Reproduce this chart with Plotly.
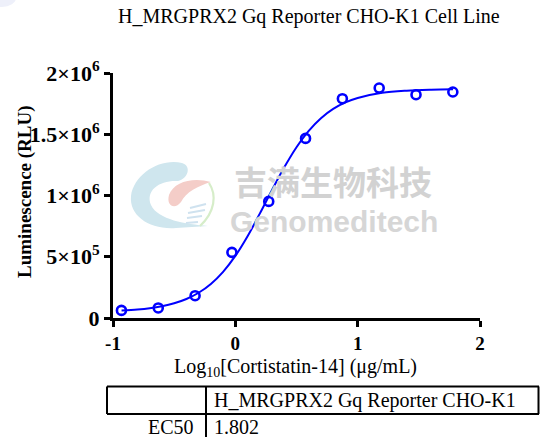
import urllib.parse
import plotly.graph_objects as go

# ---------------- data ----------------
log_conc = [-0.931, -0.630, -0.329, -0.028, 0.273, 0.574, 0.875, 1.176, 1.477, 1.778]
luminescence = [62000, 82000, 182000, 536000, 952000, 1466000, 1790000, 1877000, 1823000, 1845000]

# fitted curve
curve_x = [-0.93, -0.8, -0.7, -0.6, -0.5, -0.4, -0.3, -0.2, -0.1, 0.0, 0.1, 0.2, 0.3,
           0.4, 0.5, 0.6, 0.7, 0.8, 0.9, 1.0, 1.2, 1.4, 1.6, 1.78]
curve_y = [62000, 70000, 80000, 96000, 120000, 155000, 206000, 278000, 377000, 507000,
           668000, 852000, 1045000, 1230000, 1394000, 1528000, 1631000, 1707000, 1760000,
           1796000, 1838000, 1856000, 1864000, 1867000]

x_ticks = [-1, 0, 1, 2]
x_tick_labels = ["-1", "0", "1", "2"]
y_ticks = [0, 500000, 1000000, 1500000, 2000000]
y_tick_labels = ["0", "5×10<sup>5</sup>", "1×10<sup>6</sup>", "1.5×10<sup>6</sup>", "2×10<sup>6</sup>"]

title_text = "H_MRGPRX2 Gq Reporter CHO-K1 Cell Line"
x_title = "Log<sub>10</sub>[Cortistatin-14] (μg/mL)"
y_title = "Luminescence (RLU)"
table_header = "H_MRGPRX2 Gq Reporter CHO-K1"
table_row_label = "EC50"
table_row_value = "1.802"

# ---------------- layout geometry ----------------
W_IMG, H_IMG = 541, 437
L, R, T, B = 113, 61, 73, 119
PW = W_IMG - L - R
PH = H_IMG - T - B


def px(x):
    return (x - L) / PW


def py(y):
    return (H_IMG - B - y) / PH


SERIF = "Liberation Serif"
BLUE = "#0000ff"

fig = go.Figure()
fig.add_trace(go.Scatter(x=curve_x, y=curve_y, mode="lines", line=dict(color=BLUE, width=2, shape="spline"),
                         hoverinfo="skip", showlegend=False, cliponaxis=False))
fig.add_trace(go.Scatter(x=log_conc, y=luminescence, mode="markers",
                         marker=dict(symbol="circle-open", size=9, color=BLUE, line=dict(width=2.6, color=BLUE)),
                         showlegend=False, cliponaxis=False))

annotations = [
    dict(text=title_text, x=px(309), y=py(17), xref="paper", yref="paper", showarrow=False,
         font=dict(family=SERIF, size=20, color="black"), xanchor="center", yanchor="middle"),
    dict(text=y_title, x=px(25), y=py(192), xref="paper", yref="paper", showarrow=False, textangle=-90,
         font=dict(family=SERIF, size=19, color="black", weight="bold"), xanchor="center", yanchor="middle"),
    dict(text=x_title, x=px(295), y=py(367), xref="paper", yref="paper", showarrow=False,
         font=dict(family=SERIF, size=20, color="black"), xanchor="center", yanchor="middle"),
    # watermark
    dict(text="吉满生物科技", x=px(333), y=py(181), xref="paper", yref="paper", showarrow=False,
         font=dict(family="Noto Sans CJK SC", size=33, color="#d2d2d2", weight="bold"),
         xanchor="center", yanchor="middle"),
    dict(text="Genomeditech", x=px(334), y=py(221), xref="paper", yref="paper", showarrow=False,
         font=dict(family="Liberation Sans", size=30, color="#d6d6d6", weight="bold"),
         xanchor="center", yanchor="middle"),
    # table
    dict(text=table_header, x=px(212), y=py(400), xref="paper", yref="paper", showarrow=False,
         font=dict(family=SERIF, size=20, color="black"), xanchor="left", yanchor="middle"),
    dict(text=table_row_label, x=px(196), y=py(427), xref="paper", yref="paper", showarrow=False,
         font=dict(family=SERIF, size=20, color="black"), xanchor="right", yanchor="middle"),
    dict(text=table_row_value, x=px(212), y=py(427), xref="paper", yref="paper", showarrow=False,
         font=dict(family=SERIF, size=20, color="black"), xanchor="left", yanchor="middle"),
]

line_style = dict(color="black", width=2)
shapes = [
    dict(type="line", xref="paper", yref="paper", x0=px(107), x1=px(539), y0=py(386.5), y1=py(386.5), line=line_style),
    dict(type="line", xref="paper", yref="paper", x0=px(107), x1=px(539), y0=py(414), y1=py(414), line=line_style),
    dict(type="line", xref="paper", yref="paper", x0=px(107), x1=px(107), y0=py(386.5), y1=py(414), line=line_style),
    dict(type="line", xref="paper", yref="paper", x0=px(538.5), x1=px(538.5), y0=py(386.5), y1=py(414), line=line_style),
    dict(type="line", xref="paper", yref="paper", x0=px(206), x1=px(206), y0=py(386.5), y1=py(440), line=line_style),
]

logo_svg = (
    "<svg xmlns='http://www.w3.org/2000/svg' width='110' height='100' viewBox='0 0 110 100'>"
    "<path d='M62 13 C40 8 14 24 11 46 C9 66 30 80 56 78 L88 76 C66 74 38 70 31 55 "
    "C25 40 40 30 58 31 C68 29 72 16 62 13 Z' fill='#cfe6ee'/>"
    "<path d='M91 32 C74 27 54 31 49 45 C46 56 55 60 61 52 C66 42 78 36 91 32 Z' fill='#f4cdc8'/>"
    "<path d='M89 33 C97 45 95 62 80 76' stroke='#d6edc9' stroke-width='2.2' fill='none'/>"
    "<path d='M70 58 L86 54 M68 63 L85 60 M67 68 L82 66 M66 73 L78 72' stroke='#cfe2ef' stroke-width='2'/>"
    "</svg>"
)
logo_uri = "data:image/svg+xml;utf8," + urllib.parse.quote(logo_svg)

corner_svg = (
    "<svg xmlns='http://www.w3.org/2000/svg' width='20' height='12' viewBox='0 0 20 12'>"
    "<ellipse cx='2' cy='-2' rx='14' ry='9' fill='#eef0fa'/></svg>"
)
corner_uri = "data:image/svg+xml;utf8," + urllib.parse.quote(corner_svg)

images = [
    dict(source=logo_uri, xref="paper", yref="paper", x=px(120), y=py(150), sizex=110 / PW, sizey=100 / PH,
         xanchor="left", yanchor="top", sizing="stretch", layer="below"),
    dict(source=corner_uri, xref="paper", yref="paper", x=px(0), y=py(0), sizex=20 / PW, sizey=12 / PH,
         xanchor="left", yanchor="top", sizing="stretch", layer="below"),
]

fig.update_layout(
    width=W_IMG, height=H_IMG,
    margin=dict(l=L, r=R, t=T, b=B, pad=0),
    paper_bgcolor="white", plot_bgcolor="white",
    showlegend=False,
    hovermode=False,
    annotations=annotations,
    shapes=shapes,
    images=images,
    xaxis=dict(range=[-1, 2], tickvals=x_ticks, ticktext=x_tick_labels, showgrid=False, zeroline=False,
               showline=True, linecolor="black", linewidth=3, ticks="outside", ticklen=6, tickwidth=3,
               tickcolor="black", tickfont=dict(family=SERIF, size=19, color="black", weight="bold")),
    yaxis=dict(range=[0, 2000000], tickvals=y_ticks, ticktext=y_tick_labels, showgrid=False, zeroline=False,
               showline=True, linecolor="black", linewidth=3, ticks="outside", ticklen=6, tickwidth=3,
               tickcolor="black", tickfont=dict(family=SERIF, size=22, color="black", weight="bold")),
)

fig.write_html("out.html", config={"displayModeBar": False},
               post_script="document.body.style.margin='0';document.body.style.overflow='hidden';")
